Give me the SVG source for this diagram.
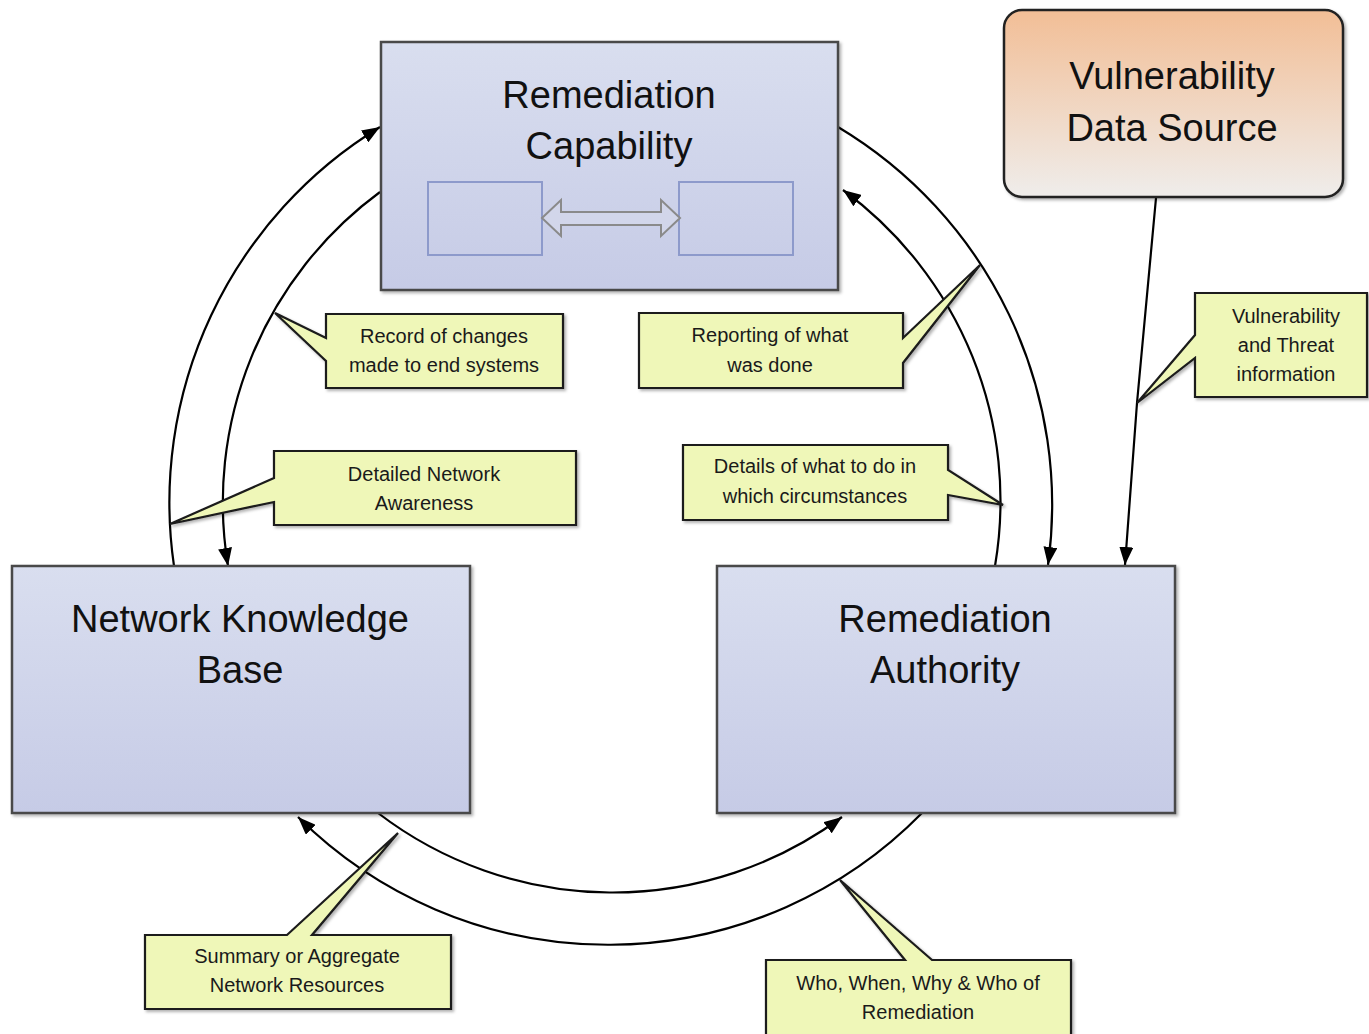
<svg xmlns="http://www.w3.org/2000/svg" width="1369" height="1034" viewBox="0 0 1369 1034">
<defs>
<linearGradient id="gBlue" x1="0" y1="0" x2="0" y2="1">
<stop offset="0" stop-color="#d9deef"/>
<stop offset="1" stop-color="#c6cbe6"/>
</linearGradient>
<linearGradient id="gOrange" x1="0" y1="0" x2="0" y2="1">
<stop offset="0" stop-color="#f2be96"/>
<stop offset="1" stop-color="#efedeb"/>
</linearGradient>
<filter id="sh" x="-10%" y="-10%" width="120%" height="120%">
<feDropShadow dx="2" dy="2" stdDeviation="1.5" flood-color="#000" flood-opacity="0.3"/>
</filter>
<marker id="ah" viewBox="0 0 18 14" refX="18" refY="7" markerWidth="18" markerHeight="14" markerUnits="userSpaceOnUse" orient="auto">
<path d="M0,0 L18,7 L0,14 Z" fill="#000"/>
</marker>
<style>
.node{fill:url(#gBlue);stroke:#4a4a4a;stroke-width:2.5;filter:url(#sh)}
.big{font-family:"Liberation Sans",Arial,sans-serif;font-size:38px;fill:#111;text-anchor:middle}
.call{fill:#eff7b8;stroke:#1a1a1a;stroke-width:2.2;stroke-linejoin:miter;filter:url(#sh)}
.ct{font-family:"Liberation Sans",Arial,sans-serif;font-size:20px;fill:#1a1a1a;text-anchor:middle}
.conn{fill:none;stroke:#000;stroke-width:2.2;marker-end:url(#ah)}
.inner{fill:none;stroke:#8d9acb;stroke-width:2}
</style>
</defs>
<rect width="1369" height="1034" fill="#fff"/>

<g id="connectors">
<path class="conn" d="M174,566 A440,440 0 0 1 380,127"/>
<path class="conn" d="M380,192 A386,386 0 0 0 228,566"/>
<path class="conn" d="M838,127 A440,440 0 0 1 1048,565"/>
<path class="conn" d="M995,566 A386,386 0 0 0 843,190"/>
<path class="conn" d="M922,813 A440,440 0 0 1 298,817"/>
<path class="conn" d="M378,813 A386,386 0 0 0 842,817"/>
<path class="conn" d="M1156,198 L1137,403 L1125,565"/>
</g>

<g id="node-remediation-capability">
<rect class="node" x="381" y="42" width="457" height="248"/>
<text class="big" x="609" y="108">Remediation</text>
<text class="big" x="609" y="159">Capability</text>
<rect class="inner" x="428" y="182" width="114" height="73"/>
<rect class="inner" x="679" y="182" width="114" height="73"/>
<polygon points="542,218 561,200 561,212 661,212 661,200 680,218 661,236 661,225 561,225 561,236" fill="#d2d6ea" stroke="#8a8a8a" stroke-width="2" stroke-linejoin="miter"/>
</g>

<g id="node-vulnerability-data-source">
<rect x="1004" y="10" width="339" height="187" rx="18" ry="18" fill="url(#gOrange)" stroke="#222" stroke-width="2.5" filter="url(#sh)"/>
<text class="big" x="1172" y="89">Vulnerability</text>
<text class="big" x="1172" y="141">Data Source</text>
</g>

<g id="node-network-knowledge-base">
<rect class="node" x="12" y="566" width="458" height="247"/>
<text class="big" x="240" y="632">Network Knowledge</text>
<text class="big" x="240" y="683">Base</text>
</g>

<g id="node-remediation-authority">
<rect class="node" x="717" y="566" width="458" height="247"/>
<text class="big" x="945" y="632">Remediation</text>
<text class="big" x="945" y="683">Authority</text>
</g>

<g id="callout-record">
<path class="call" d="M326,314 H563 V388 H326 V361 L275,313 L326,338 Z"/>
<text class="ct" x="444" y="343">Record of changes</text>
<text class="ct" x="444" y="372">made to end systems</text>
</g>

<g id="callout-detailed">
<path class="call" d="M274,451 H576 V525 H274 V502 L170,524 L274,478 Z"/>
<text class="ct" x="424" y="481">Detailed Network</text>
<text class="ct" x="424" y="510">Awareness</text>
</g>

<g id="callout-reporting">
<path class="call" d="M639,313 H903 V338 L980,265 L903,363 V388 H639 Z"/>
<text class="ct" x="770" y="342">Reporting of what</text>
<text class="ct" x="770" y="372">was done</text>
</g>

<g id="callout-details">
<path class="call" d="M683,445 H948 V470 L1003,505 L948,495 V520 H683 Z"/>
<text class="ct" x="815" y="473">Details of what to do in</text>
<text class="ct" x="815" y="503">which circumstances</text>
</g>

<g id="callout-vuln">
<path class="call" d="M1195,293 H1367 V397 H1195 V358 L1137,403 L1195,335 Z"/>
<text class="ct" x="1286" y="323">Vulnerability</text>
<text class="ct" x="1286" y="352">and Threat</text>
<text class="ct" x="1286" y="381">information</text>
</g>

<g id="callout-summary">
<path class="call" d="M145,935 H287 L398,833 L312,935 H451 V1009 H145 Z"/>
<text class="ct" x="297" y="963">Summary or Aggregate</text>
<text class="ct" x="297" y="992">Network Resources</text>
</g>

<g id="callout-who">
<path class="call" d="M766,960 H905 L840,880 L932,960 H1071 V1040 H766 Z"/>
<text class="ct" x="918" y="990">Who, When, Why &amp; Who of</text>
<text class="ct" x="918" y="1019">Remediation</text>
</g>
</svg>
